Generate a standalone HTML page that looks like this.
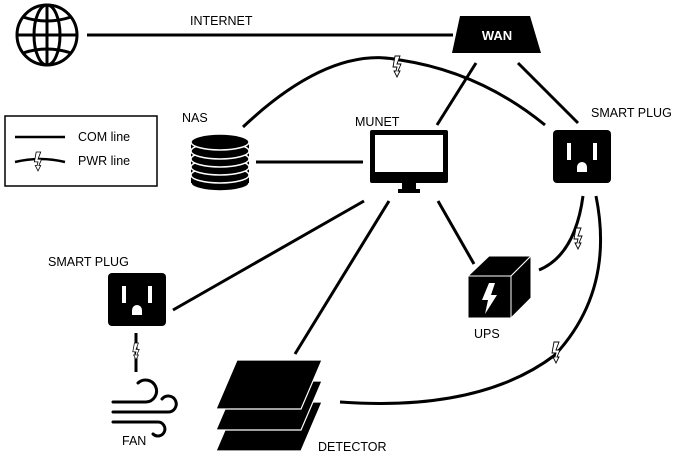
<!DOCTYPE html>
<html><head><style>
html,body{margin:0;padding:0;background:#fff;}
svg{display:block;font-family:"Liberation Sans",sans-serif;}
</style></head><body>
<svg width="685" height="456" viewBox="0 0 685 456" xmlns="http://www.w3.org/2000/svg">
<defs>
<g id="bolt"><path d="M-2,-10 L3,-10 L0,-2 L4,-2 L1,5 L3,5 L0,11 L-3,5 L-1,5 L0,1 L-4,1 Z" fill="#fff" stroke="#000" stroke-width="0.9"/></g>
</defs>
<g stroke="#000" stroke-width="3" fill="none" stroke-linecap="butt">
<circle cx="47" cy="35" r="30"/>
<ellipse cx="47" cy="35" rx="13" ry="30"/>
<line x1="47" y1="5" x2="47" y2="65"/>
<line x1="17" y1="35" x2="77" y2="35"/>
<path d="M23,17 Q47,25 71,17"/>
<path d="M23,53 Q47,45 71,53"/>
<line x1="87" y1="35" x2="453" y2="35"/>
<line x1="476" y1="63" x2="437" y2="125"/>
<line x1="518" y1="63" x2="578" y2="123"/>
<path d="M243,127 Q330,45 400,60 Q480,72 545,125"/>
<line x1="256" y1="162" x2="363" y2="162"/>
<line x1="364" y1="201" x2="173" y2="310"/>
<line x1="389" y1="201" x2="295" y2="354"/>
<line x1="438" y1="201" x2="474" y2="264"/>
<path d="M539,270 Q575,255 583,196"/>
<path d="M596,196 Q615,290 555,355 Q480,412 340,402"/>
<line x1="136" y1="333" x2="136" y2="372"/>
<rect x="5" y="116" width="152" height="70" stroke-width="1.5"/>
<line x1="15" y1="137" x2="65" y2="137" stroke-width="2.5"/>
<path d="M15,162 Q40,156 65,162" stroke-width="2.5"/>
</g>
<use href="#bolt" transform="translate(397,66)"/>
<use href="#bolt" transform="translate(578,238)"/>
<use href="#bolt" transform="translate(556,352)"/>
<use href="#bolt" transform="translate(136,351) scale(0.8)"/>
<use href="#bolt" transform="translate(38,161) scale(0.9)"/>
<polygon points="460,16 530,16 541,53 452,53" fill="#000"/>
<text x="497" y="40" fill="#fff" font-size="13" font-weight="bold" text-anchor="middle">WAN</text>
<g fill="#000" stroke="#fff" stroke-width="1.5">
<ellipse cx="220" cy="183" rx="29" ry="8"/>
<rect x="191" y="140" width="58" height="43" stroke="none"/>
<ellipse cx="220" cy="175" rx="29" ry="8"/>
<ellipse cx="220" cy="167" rx="29" ry="8"/>
<ellipse cx="220" cy="159" rx="29" ry="8"/>
<ellipse cx="220" cy="151" rx="29" ry="8"/>
<ellipse cx="220" cy="142" rx="29" ry="8"/>
</g>
<rect x="370" y="130" width="78" height="53" rx="2" fill="#000"/>
<rect x="375" y="135" width="68" height="37" fill="#fff"/>
<rect x="402" y="183" width="14" height="8" fill="#000"/>
<rect x="398" y="189" width="22" height="4" fill="#000"/>
<g transform="translate(553,130)">
<rect width="58" height="53" rx="4" fill="#000"/>
<rect x="14" y="13" width="4" height="17" fill="#fff"/>
<rect x="40" y="13" width="4" height="17" fill="#fff"/>
<path d="M24,42 v-5 a5,5 0 0 1 10,0 v5 z" fill="#fff"/>
</g>
<g transform="translate(108,273)">
<rect width="58" height="53" rx="4" fill="#000"/>
<rect x="14" y="13" width="4" height="17" fill="#fff"/>
<rect x="40" y="13" width="4" height="17" fill="#fff"/>
<path d="M24,42 v-5 a5,5 0 0 1 10,0 v5 z" fill="#fff"/>
</g>
<!-- UPS -->
<polygon points="468,276 489,256 531,256 511,276" fill="#000" stroke="#fff" stroke-width="1"/>
<polygon points="511,276 531,256 531,298 511,318" fill="#000" stroke="#fff" stroke-width="1"/>
<rect x="468" y="276" width="43" height="42" fill="#000" stroke="#fff" stroke-width="1"/>
<path d="M489,283 L482,300 L488,300 L485,314 L497,295 L491,295 L495,283 Z" fill="#fff"/>
<g stroke="#000" stroke-width="3" fill="none" stroke-linecap="round">
<path d="M113,402 H146 a11,11 0 1 0 -8,-19"/>
<path d="M113,412 H168 a8,8 0 1 0 -6,-13"/>
<path d="M113,422 H158 a7,7 0 1 1 -5,12"/>
</g>
<g fill="#000" stroke="#fff" stroke-width="1.2">
<polygon points="237,402 322,402 301,451 216,451"/>
<polygon points="237,381 322,381 301,430 216,430"/>
<polygon points="237,360 322,360 301,409 216,409"/>
</g>
<g font-size="12.5" fill="#000">
<text x="190" y="25">INTERNET</text>
<text x="182" y="122">NAS</text>
<text x="355" y="126">MUNET</text>
<text x="591" y="117">SMART PLUG</text>
<text x="48" y="266">SMART PLUG</text>
<text x="474" y="338">UPS</text>
<text x="122" y="445">FAN</text>
<text x="318" y="451">DETECTOR</text>
<text x="78" y="141">COM line</text>
<text x="78" y="165">PWR line</text>
</g>
</svg>
</body></html>
